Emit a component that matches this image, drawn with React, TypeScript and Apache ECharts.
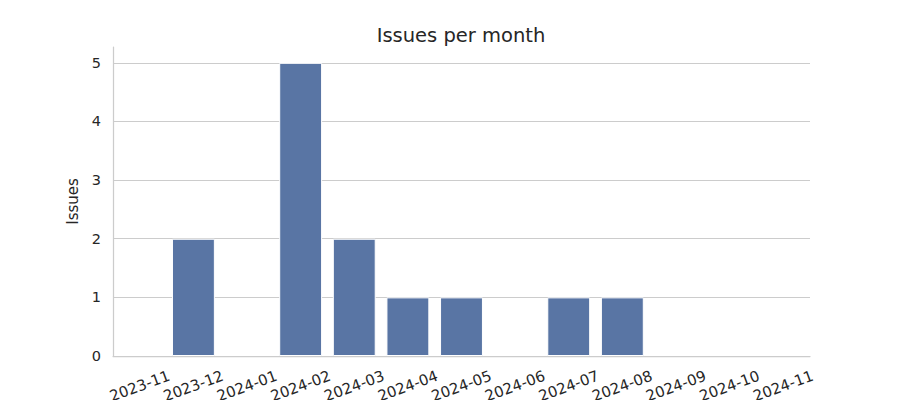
import React, { useEffect, useRef } from "react";
import * as echarts from "echarts";

const months = [
  "2023-11", "2023-12", "2024-01", "2024-02", "2024-03", "2024-04", "2024-05",
  "2024-06", "2024-07", "2024-08", "2024-09", "2024-10", "2024-11",
];
const issues = [0, 2, 0, 5, 2, 1, 1, 0, 1, 1, 0, 0, 0];
const yTicks = [0, 1, 2, 3, 4, 5];

const FONT = "DejaVu Sans, Verdana, sans-serif";
const TEXT = "#262626";
const GRID = "#cccccc";

export default function App() {
  const ref = useRef<HTMLDivElement>(null);
  useEffect(() => {
    if (!ref.current) return;
    document.body.style.margin = "0";
    const chart = echarts.init(ref.current, null, { renderer: "svg" });
    chart.setOption({
      animation: false,
      title: {
        text: "Issues per month",
        left: 456,
        top: 20,
        textAlign: "center",
        textStyle: { fontFamily: FONT, fontSize: 19.5, fontWeight: "normal", color: TEXT },
      },
      grid: {
        left: 113,
        right: 90,
        top: 47,
        bottom: 44,
        containLabel: false,
        outerBoundsMode: "none",
      },
      xAxis: {
        type: "category",
        data: months,
        boundaryGap: true,
        z: 5,
        axisLine: { show: true, lineStyle: { color: GRID, width: 1.25 } },
        axisTick: { show: false },
        splitLine: { show: false },
        axisLabel: {
          interval: 0,
          rotate: 20,
          align: "center",
          verticalAlign: "middle",
          margin: 30,
          fontFamily: FONT,
          fontSize: 15,
          color: TEXT,
        },
      },
      yAxis: {
        type: "value",
        min: yTicks[0],
        max: 5.27,
        interval: 1,
        name: "Issues",
        nameLocation: "middle",
        nameGap: 28,
        nameRotate: 90,
        nameTextStyle: { fontFamily: FONT, fontSize: 15, color: TEXT },
        axisLine: { show: true, lineStyle: { color: GRID, width: 1.25 } },
        axisTick: { show: false },
        splitLine: { show: true, showMaxLine: false, showMinLine: false, lineStyle: { color: GRID, width: 1 } },
        axisLabel: {
          margin: 12,
          fontFamily: FONT,
          fontSize: 14.5,
          color: TEXT,
          showMaxLabel: false,
          formatter: (v: number) => (Number.isInteger(v) ? String(v) : ""),
        },
      },
      series: [
        {
          type: "bar",
          data: issues,
          barWidth: "80%",
          itemStyle: { color: "#5975a4", borderColor: "#ffffff", borderWidth: 1 },
        },
      ],
    });
    return () => chart.dispose();
  }, []);
  return <div ref={ref} style={{ width: 900, height: 400 }} />;
}
